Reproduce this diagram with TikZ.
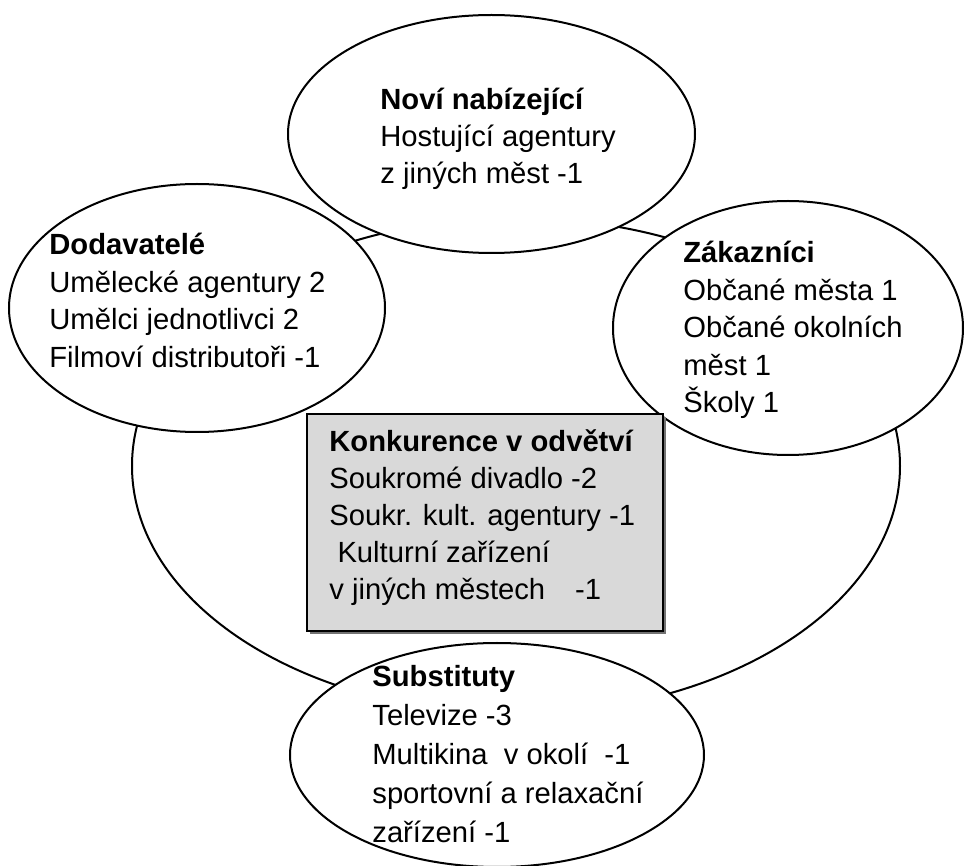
\documentclass[tikz,border=0pt]{standalone}
\usepackage{fontspec}
\setmainfont{Liberation Sans}
\usetikzlibrary{shapes.geometric}
\definecolor{panelgray}{HTML}{D9D9D9}
% a block of left-aligned lines whose reference point is the first baseline
\newcommand\linesat[2]{\vtop{\baselineskip=#1\lineskiplimit=-20pt\lineskip=0pt #2}}
\newcommand\textrow[1]{\hbox{#1}}
\begin{document}
\begin{tikzpicture}[x=0.5pt,y=-0.5pt,
  outline/.style={line width=1pt,draw=black},
  force/.style={outline,ellipse,fill=white,inner sep=0pt},
  txt/.style={anchor=base west,inner sep=0pt,font=\fontsize{14.6pt}{18.75pt}\selectfont}]
\useasboundingbox (0,0) rectangle (966,866);

% outer ring joining the five forces
\draw[outline] (516,466) ellipse [x radius=192pt,y radius=124pt];

% the four outer forces
\node[force,minimum width=203.5pt,minimum height=119pt] (entrants) at (491.5,134) {};
\node[force,minimum width=188pt,minimum height=124pt] (suppliers) at (197,308) {};
\node[force,minimum width=175pt,minimum height=127pt] (buyers) at (788,328) {};
\node[force,minimum width=207pt,minimum height=112pt] (substitutes) at (497,755) {};

% rivalry panel in the middle
\fill[black!55] (310,417) rectangle (666,634);
\draw[line width=0.7pt,fill=panelgray] (307,414) rectangle (663,631);
\coordinate (rivalry) at (485,522);

\node[txt] (entrantsText) at (380,110) {\linesat{18.4pt}{%
  \textrow{\textbf{Noví nabízející}}%
  \textrow{Hostující agentury}%
  \textrow{z jiných měst -1}}};

\node[txt] (suppliersText) at (49,255) {\linesat{18.75pt}{%
  \textrow{\textbf{Dodavatelé}}%
  \textrow{Umělecké agentury 2}%
  \textrow{Umělci jednotlivci 2}%
  \textrow{Filmoví distributoři -1}}};

\node[txt] (buyersText) at (683,263) {\linesat{18.75pt}{%
  \textrow{\textbf{Zákazníci}}%
  \textrow{Občané města 1}%
  \textrow{Občané okolních}%
  \textrow{měst 1}%
  \textrow{Školy 1}}};

\node[txt] (rivalryText) at (329,452) {\linesat{18.5pt}{%
  \textrow{\textbf{Konkurence v odvětví}}%
  \textrow{Soukromé divadlo -2}%
  \textrow{Soukr. kult. agentury -1}%
  \textrow{\ Kulturní zařízení}%
  \textrow{v jiných městech\hspace{15pt}-1}}};

\node[txt] (substitutesText) at (372,687) {\linesat{19.5pt}{%
  \textrow{\textbf{Substituty}}%
  \textrow{Televize -3}%
  \textrow{Multikina\ \ v okolí\ \ -1}%
  \textrow{sportovní a relaxační}%
  \textrow{zařízení -1}}};
\end{tikzpicture}
\end{document}
